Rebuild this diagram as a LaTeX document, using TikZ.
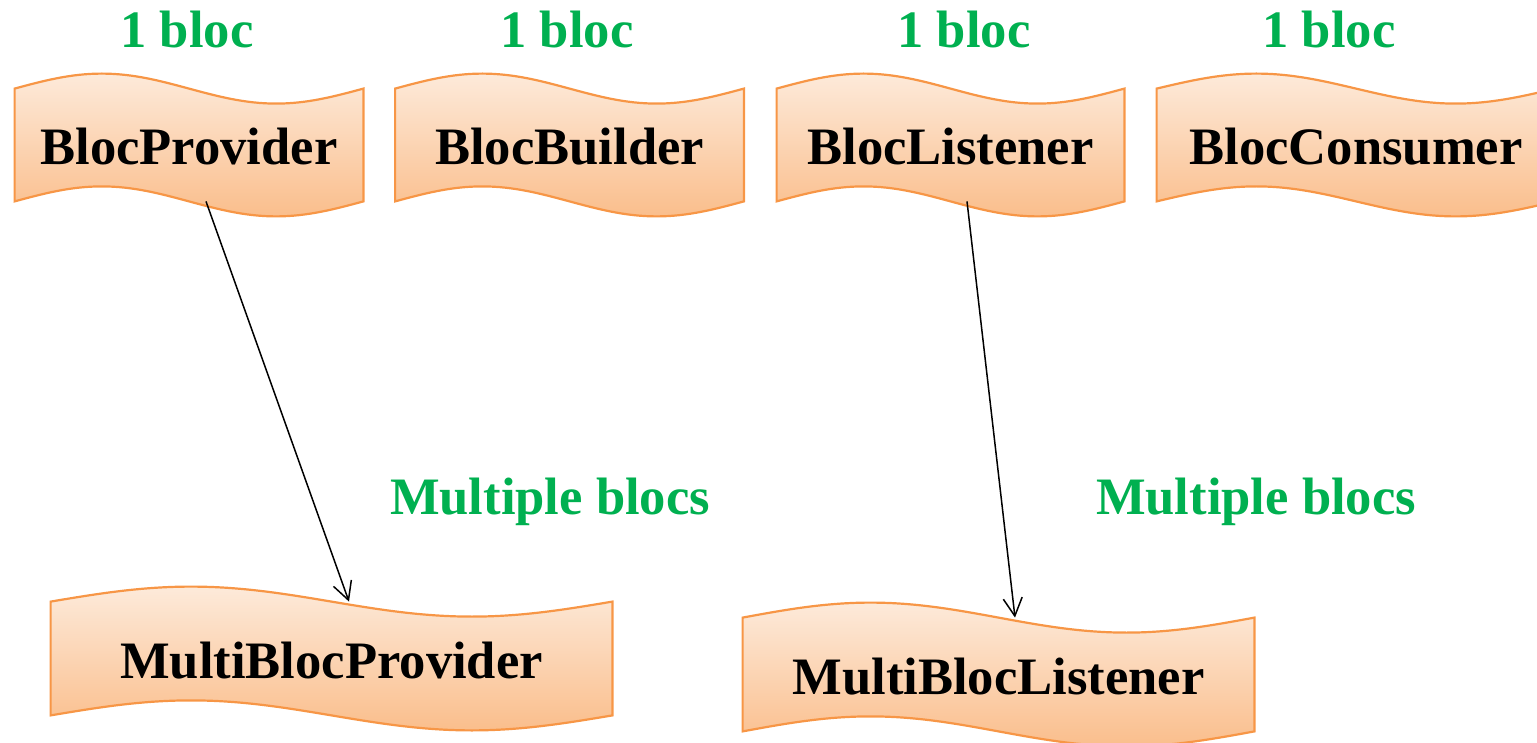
\documentclass[tikz,border=0pt]{standalone}
\usepackage{fontspec}
\setmainfont{Liberation Serif}
\usetikzlibrary{arrows.meta,backgrounds,calc}

\definecolor{tapeedge}{RGB}{247,150,70}
\definecolor{tapetop}{RGB}{253,234,218}
\definecolor{tapebottom}{RGB}{250,190,140}
\definecolor{labelgreen}{RGB}{0,176,80}

% height of the waves on the upper and lower edge of a tape
\newcommand{\tapeamp}{7.5pt}

% punched-tape outline drawn round the rectangle of a named node
\newcommand{\tapeoutline}[1]{%
  \path[tapebody] let \p1=(#1.north west), \p2=(#1.south east),
      \n1={(\x2-\x1)/4} in
    (\x1,\y1) sin ({\x1+\n1*1pt},{\y1+\tapeamp})
              cos ({\x1+2*\n1*1pt},\y1)
              sin ({\x1+3*\n1*1pt},{\y1-\tapeamp})
              cos (\x2,\y1)
    -- (\x2,\y2) sin ({\x2-\n1*1pt},{\y2-\tapeamp})
              cos ({\x2-2*\n1*1pt},\y2)
              sin ({\x2-3*\n1*1pt},{\y2+\tapeamp})
              cos (\x1,\y2)
    -- cycle;}

\tikzset{
  tapebody/.style={draw=tapeedge, line width=1.1pt,
    top color=tapetop, bottom color=tapebottom},
  tapebox/.style={rectangle, inner sep=0pt, draw=none,
    text height=19.8pt, text depth=0pt,
    font=\fontsize{26.3}{30}\selectfont\bfseries},
  countlabel/.style={anchor=base, text=labelgreen,
    font=\fontsize{26.3}{30}\selectfont\bfseries},
  link/.style={line width=0.75pt, black,
    -{Straight Barb[length=9pt,width=9.5pt]}},
}

\begin{document}
\begin{tikzpicture}[x=0.5pt,y=0.5pt]
\useasboundingbox (0,0) rectangle (1537,-743);

% single-bloc widgets
\node[tapebox, minimum width=174pt,   minimum height=56pt] (prov)  at (189,-145)   {BlocProvider};
\node[tapebox, minimum width=174pt,   minimum height=56pt] (build) at (569.5,-145) {BlocBuilder};
\node[tapebox, minimum width=173.5pt, minimum height=56pt] (lis)   at (950.5,-145) {BlocListener};
\node[tapebox, minimum width=199pt,   minimum height=56pt] (cons)  at (1356,-145)  {BlocConsumer};

% multi-bloc widgets
\node[tapebox, minimum width=280.5pt, minimum height=56.5pt] (mprov) at (331.5,-658.5) {MultiBlocProvider};
\node[tapebox, minimum width=255.5pt, minimum height=56.5pt] (mlis)  at (998.5,-674.5) {MultiBlocListener};

\begin{pgfonlayer}{background}
  \foreach \t in {prov,build,lis,cons,mprov,mlis} {\tapeoutline{\t}}
\end{pgfonlayer}

% labels
\node[countlabel] (c1) at (187,-48)  {1 bloc};
\node[countlabel] (c2) at (567,-48)  {1 bloc};
\node[countlabel] (c3) at (964,-48)  {1 bloc};
\node[countlabel] (c4) at (1329,-48) {1 bloc};
\node[countlabel] (m1) at (550,-514)  {Multiple blocs};
\node[countlabel] (m2) at (1256,-514) {Multiple blocs};

% connectors
\draw[link] ($(prov.south)+(17,0)$) -- ($(mprov.north)+(17.5,0)$);
\draw[link] ($(lis.south)+(16.5,0)$) -- ($(mlis.north)+(16.5,0)$);
\end{tikzpicture}
\end{document}
